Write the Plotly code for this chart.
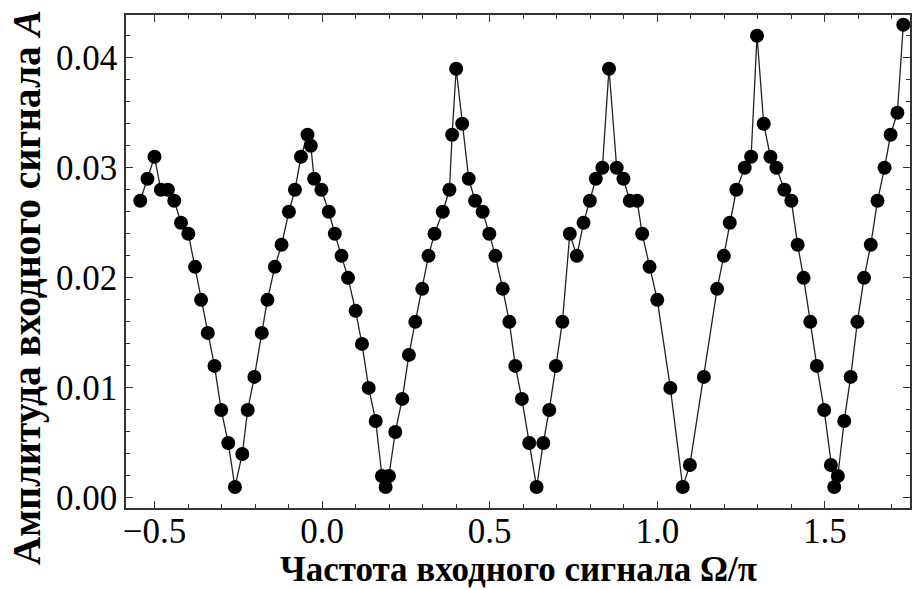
import plotly.graph_objects as go

# Frequency Omega/pi
freq = [-0.5425, -0.521, -0.500, -0.481, -0.460, -0.441, -0.421, -0.399, -0.379, -0.361,
        -0.341, -0.321, -0.301, -0.280, -0.260, -0.238, -0.222, -0.202, -0.180, -0.163,
        -0.141, -0.121, -0.099, -0.081, -0.063, -0.0435, -0.0336, -0.0238, -0.002, 0.020,
        0.038, 0.058, 0.0774, 0.100, 0.119, 0.139, 0.160, 0.1786, 0.1896, 0.1994,
        0.2184, 0.2393, 0.259, 0.278, 0.2988, 0.3175, 0.3354, 0.360, 0.380, 0.388,
        0.400, 0.418, 0.4375, 0.4565, 0.479, 0.499, 0.517, 0.539, 0.5586, 0.5765,
        0.596, 0.618, 0.640, 0.660, 0.6777, 0.6976, 0.717, 0.739, 0.760, 0.780,
        0.799, 0.8167, 0.8363, 0.856, 0.879, 0.899, 0.918, 0.940, 0.955, 0.977,
        1.000, 1.039, 1.076, 1.0973, 1.139, 1.1786, 1.1985, 1.2164, 1.236, 1.261,
        1.280, 1.2976, 1.3176, 1.3375, 1.3554, 1.379, 1.400, 1.4188, 1.4366, 1.4565,
        1.476, 1.498, 1.518, 1.528, 1.5387, 1.5577, 1.577, 1.597, 1.617, 1.637,
        1.657, 1.678, 1.696, 1.7164, 1.734]

# Amplitude A
amp = [0.027, 0.029, 0.031, 0.028, 0.028, 0.027, 0.025, 0.024, 0.021, 0.018,
       0.015, 0.012, 0.008, 0.005, 0.001, 0.004, 0.008, 0.011, 0.015, 0.018,
       0.021, 0.023, 0.026, 0.028, 0.031, 0.033, 0.032, 0.029, 0.028, 0.026,
       0.024, 0.022, 0.020, 0.017, 0.014, 0.010, 0.007, 0.002, 0.001, 0.002,
       0.006, 0.009, 0.013, 0.016, 0.019, 0.022, 0.024, 0.026, 0.028, 0.033,
       0.039, 0.034, 0.029, 0.027, 0.026, 0.024, 0.022, 0.019, 0.016, 0.012,
       0.009, 0.005, 0.001, 0.005, 0.008, 0.012, 0.016, 0.024, 0.022, 0.025,
       0.027, 0.029, 0.030, 0.039, 0.030, 0.029, 0.027, 0.027, 0.024, 0.021,
       0.018, 0.010, 0.001, 0.003, 0.011, 0.019, 0.022, 0.025, 0.028, 0.030,
       0.031, 0.042, 0.034, 0.031, 0.030, 0.028, 0.027, 0.023, 0.020, 0.016,
       0.012, 0.008, 0.003, 0.001, 0.002, 0.007, 0.011, 0.016, 0.020, 0.023,
       0.027, 0.030, 0.033, 0.035, 0.043]

x_ticks = [-0.5, 0.0, 0.5, 1.0, 1.5]
y_ticks = [0.00, 0.01, 0.02, 0.03, 0.04]

x_title = "Частота входного сигнала Ω/π"
y_title = "Амплитуда входного сигнала <i>A</i>"

fig = go.Figure()
fig.add_trace(go.Scatter(
    x=freq, y=amp, mode="lines+markers",
    line=dict(color="#222222", width=1.3),
    marker=dict(color="black", size=14),
    cliponaxis=True,
))

tickfont = dict(family="Liberation Serif", size=35, color="black")
axis_common = dict(
    showgrid=False, zeroline=False, showline=True, linecolor="#333333", linewidth=1.5,
    mirror="ticks", ticks="inside", ticklen=7, tickwidth=1.2, tickcolor="#333333",
    tickfont=tickfont,
)

fig.update_xaxes(range=[-0.585, 1.754], tickvals=x_ticks,
                 ticktext=["−0.5", "0.0", "0.5", "1.0", "1.5"],
                 ticklabelstandoff=-9,
                 minor=dict(ticks="inside", dtick=0.1, tick0=0, ticklen=4,
                            tickwidth=1.0, tickcolor="#333333"),
                 **axis_common)
fig.update_yaxes(range=[-0.00091, 0.04388], tickvals=y_ticks,
                 ticktext=["0.00", "0.01", "0.02", "0.03", "0.04"],
                 minor=dict(ticks="inside", dtick=0.002, tick0=0, ticklen=4,
                            tickwidth=1.0, tickcolor="#333333"),
                 **axis_common)

fig.update_layout(
    width=912, height=590,
    margin=dict(l=126, r=0, t=15, b=82),
    plot_bgcolor="white", paper_bgcolor="white",
    showlegend=False,
    annotations=[
        dict(text="<b>" + x_title + "</b>", xref="paper", yref="paper",
             x=0.5, y=-0.124, xanchor="center", yanchor="middle", showarrow=False,
             font=dict(family="Liberation Serif", size=35, color="black")),
        dict(text="<b>" + y_title + "</b>", xref="paper", yref="paper",
             x=-0.127, y=0.4466, xanchor="center", yanchor="middle", textangle=-90,
             showarrow=False,
             font=dict(family="Liberation Serif", size=39.5, color="black")),
    ],
)

fig.write_html("out.html")
